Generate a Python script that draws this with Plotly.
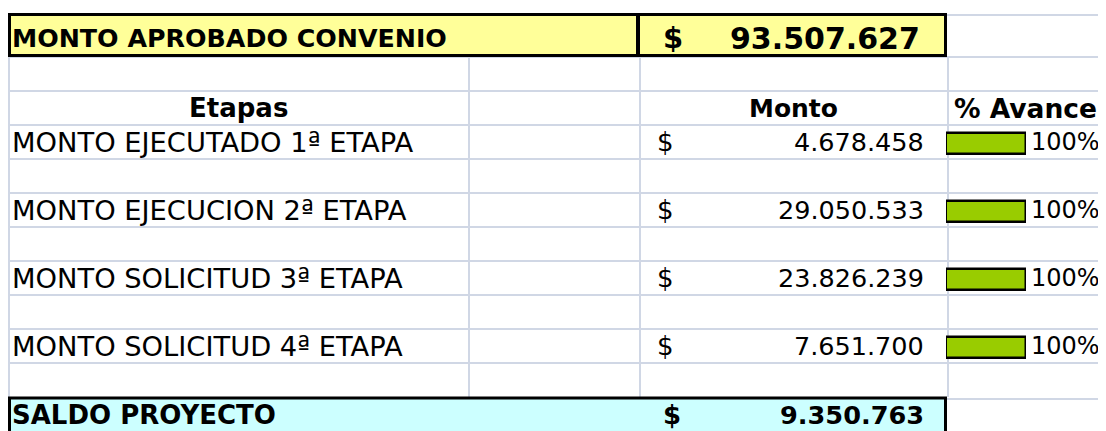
import plotly.graph_objects as go

# ---- data ----
titulo = "MONTO APROBADO CONVENIO"
monto_aprobado = 93507627
encabezados = ["Etapas", "Monto", "% Avance"]
etapas = ["MONTO EJECUTADO 1ª ETAPA", "MONTO EJECUCION 2ª ETAPA",
          "MONTO SOLICITUD 3ª ETAPA", "MONTO SOLICITUD 4ª ETAPA"]
montos = [4678458, 29050533, 23826239, 7651700]
avance = [100, 100, 100, 100]
saldo_label = "SALDO PROYECTO"
saldo = 9350763

def fmt(v):
    return f"{v:,}".replace(",", ".")

# ---- layout geometry (page pixels; page body has an 8px margin) ----
W, H = 1106, 431
OFF = 8
colx = [8, 468, 639, 947]          # column boundaries
row0 = 57
rh = 34
nrows = 10                          # rows from 57 to 397
grid = "#D0D7E5"
FONT = "DejaVu Sans"

shapes = []
def line(x0, y0, x1, y1, color=grid, w=2):
    shapes.append(dict(type="line", xref="x", yref="y", x0=x0, y0=y0, x1=x1, y1=y1,
                       line=dict(color=color, width=w), layer="below"))

# gridlines
line(947, 15, W, 15)
for i in range(nrows):
    line(colx[0], row0 + i * rh, W, row0 + i * rh)
line(947, row0 + nrows * rh + 2, W, row0 + nrows * rh + 2)
for x in colx:
    line(x + 1, row0, x + 1, row0 + nrows * rh)

# yellow header box
shapes.append(dict(type="rect", xref="x", yref="y", x0=9.5, x1=945.5, y0=14.5, y1=55.5,
                   fillcolor="#FFFF99", line=dict(color="black", width=3), layer="below"))
shapes.append(dict(type="line", xref="x", yref="y", x0=638, x1=638, y0=14, y1=56,
                   line=dict(color="black", width=4), layer="below"))
# saldo box
ys = row0 + nrows * rh + 1
shapes.append(dict(type="rect", xref="x", yref="y", x0=9.5, x1=945.5, y0=ys, y1=H + 5,
                   fillcolor="#CCFFFF", line=dict(color="black", width=3), layer="below"))

ann = []
def txt(x, y, s, size, anchor="left", bold=False):
    ann.append(dict(x=x, y=y, xref="x", yref="y", text=f"<b>{s}</b>" if bold else s,
                    showarrow=False, xanchor=anchor, yanchor="middle",
                    font=dict(family=FONT, size=size, color="black")))

# header
txt(10, 38, titulo, 25.3, bold=True)
txt(661, 38, "$", 29, bold=True)
txt(922, 38, fmt(monto_aprobado), 30, anchor="right", bold=True)

hy = row0 + rh + rh / 2
txt((colx[0] + colx[1]) / 2, hy, encabezados[0], 26, anchor="center", bold=True)
txt((colx[2] + colx[3]) / 2, hy, encabezados[1], 25, anchor="center", bold=True)
txt(952, hy, encabezados[2], 26.5, bold=True)

bar_y = []
for i, (e, m, a) in enumerate(zip(etapas, montos, avance)):
    yc = row0 + (2 + 2 * i) * rh + rh / 2
    txt(10, yc, e, 27.3)
    txt(655, yc, "$", 26)
    txt(926, yc, fmt(m), 25.5, anchor="right")
    txt(1029, yc, f"{a}%", 24)
    bar_y.append(yc + 1.5)

sy = ys + 17
txt(10, sy, saldo_label, 26, bold=True)
txt(661, sy, "$", 26, bold=True)
txt(926, sy, fmt(saldo), 25.6, anchor="right", bold=True)

fig = go.Figure()
fig.add_trace(go.Bar(x=avance, y=bar_y, orientation="h", width=21, xaxis="x2", yaxis="y",
                     marker=dict(color="#99CC00", line=dict(color="black", width=2.5)),
                     hoverinfo="skip", showlegend=False))
fw, fh = W - OFF, H - OFF
fig.update_layout(
    width=fw, height=fh, margin=dict(l=0, r=0, t=0, b=0, pad=0),
    paper_bgcolor="white", plot_bgcolor="rgba(0,0,0,0)",
    xaxis=dict(range=[OFF, W], visible=False, fixedrange=True, domain=[0, 1]),
    xaxis2=dict(range=[0, 100], visible=False, fixedrange=True,
                domain=[(946 - OFF) / fw, (1026 - OFF) / fw], anchor="y"),
    yaxis=dict(range=[H, OFF], visible=False, fixedrange=True),
    shapes=shapes, annotations=ann, bargap=0,
)
fig.write_html("out.html")
